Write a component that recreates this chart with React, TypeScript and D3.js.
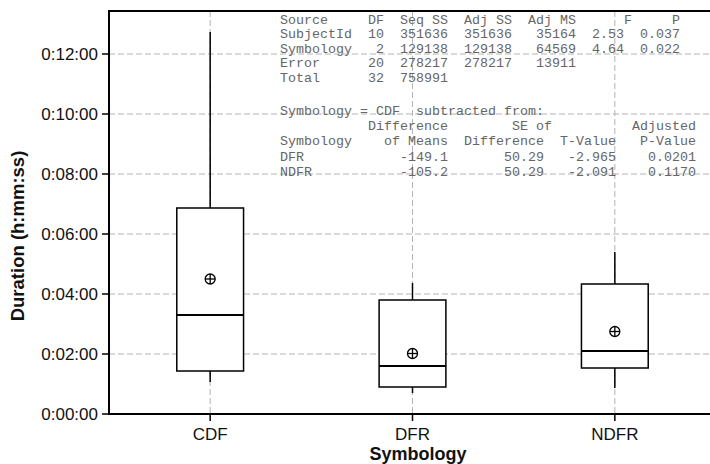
import React from 'react';
import * as d3 from 'd3';

// box plot summary per symbology, in seconds
const categories = ['CDF', 'DFR', 'NDFR'];
const whiskerLow = [64, 42, 52];
const q1 = [86, 54, 92];
const median = [198, 96, 126];
const q3 = [412, 228, 260];
const whiskerHigh = [764, 262, 324];
const means = [270, 121, 165];

const yTicks = [0, 120, 240, 360, 480, 600, 720];

// minitab session output pasted in the plot
const anovaLines = [
  'Source     DF  Seq SS  Adj SS  Adj MS      F     P',
  'SubjectId  10  351636  351636   35164  2.53  0.037',
  'Symbology   2  129138  129138   64569  4.64  0.022',
  'Error      20  278217  278217   13911',
  'Total      32  758991',
];
const compareLines = [
  'Symbology = CDF  subtracted from:',
  '           Difference        SE of          Adjusted',
  'Symbology    of Means  Difference  T-Value   P-Value',
  'DFR            -149.1       50.29   -2.965    0.0201',
  'NDFR           -105.2       50.29   -2.091    0.1170',
];

const width = 710;
const height = 464;
const margin = { top: 11, right: -6, bottom: 50, left: 109 };

function fmt(s: number) {
  const m = Math.floor(s / 60);
  const sec = s % 60;
  return `0:${String(m).padStart(2, '0')}:${String(sec).padStart(2, '0')}`;
}

export default function App() {
  const x = d3
    .scalePoint<string>()
    .domain(categories)
    .range([margin.left, width - margin.right])
    .padding(0.5);
  const y = d3
    .scaleLinear()
    .domain([0, 806])
    .range([height - margin.bottom, margin.top]);

  const boxW = x.step() * 0.33;
  const x0 = margin.left;
  const x1 = width - margin.right;
  const yb = y(0);
  const axisFont = '"Liberation Sans", Arial, sans-serif';
  const monoFont = '"Liberation Mono", "Courier New", monospace';

  return (
    <div style={{ position: 'absolute', left: 0, top: 0 }}>
      <svg width={width} height={height} style={{ display: 'block', background: '#fff' }}>
        {/* grid */}
        {yTicks.slice(1).map((t) => (
          <line
            key={'gy' + t}
            x1={x0}
            x2={x1}
            y1={y(t)}
            y2={y(t)}
            stroke="#b4b4b4"
            strokeWidth={1}
            strokeDasharray="6,3"
          />
        ))}
        {categories.map((c) => (
          <line
            key={'gx' + c}
            x1={x(c)}
            x2={x(c)}
            y1={margin.top}
            y2={yb}
            stroke="#b4b4b4"
            strokeWidth={1}
            strokeDasharray="6,3"
          />
        ))}

        {/* tables */}
        <g fill="#666" fontFamily={monoFont} fontSize={13.33}>
          {anovaLines.map((l, i) => (
            <text key={'a' + i} x={280} y={23.5 + i * 14.5} style={{ whiteSpace: 'pre' }}>
              {l}
            </text>
          ))}
          {compareLines.map((l, i) => (
            <text key={'c' + i} x={280} y={115 + i * 15.2} style={{ whiteSpace: 'pre' }}>
              {l}
            </text>
          ))}
        </g>

        {/* boxes */}
        {categories.map((c, i) => {
          const cx = x(c) as number;
          return (
            <g key={'b' + c} stroke="#000" strokeWidth={1.5} fill="#fff">
              <line x1={cx} x2={cx} y1={y(whiskerHigh[i])} y2={y(q3[i])} />
              <line x1={cx} x2={cx} y1={y(q1[i])} y2={y(whiskerLow[i])} />
              <rect x={cx - boxW / 2} y={y(q3[i])} width={boxW} height={y(q1[i]) - y(q3[i])} />
              <line x1={cx - boxW / 2} x2={cx + boxW / 2} y1={y(median[i])} y2={y(median[i])} strokeWidth={2} />
              <circle cx={cx} cy={y(means[i])} r={5} fill="none" strokeWidth={1.3} />
              <line x1={cx - 5} x2={cx + 5} y1={y(means[i])} y2={y(means[i])} strokeWidth={1.3} />
              <line x1={cx} x2={cx} y1={y(means[i]) - 5} y2={y(means[i]) + 5} strokeWidth={1.3} />
            </g>
          );
        })}

        {/* axes */}
        <line x1={x0} x2={x1} y1={margin.top} y2={margin.top} stroke="#000" strokeWidth={2} />
        <line x1={x0} x2={x1} y1={yb} y2={yb} stroke="#000" strokeWidth={2} />
        <line x1={x0} x2={x0} y1={margin.top - 1} y2={yb + 1} stroke="#000" strokeWidth={2} />
        {yTicks.map((t) => (
          <g key={'ty' + t}>
            <line x1={x0 - 7} x2={x0} y1={y(t)} y2={y(t)} stroke="#000" strokeWidth={1.5} />
            <text
              x={x0 - 11}
              y={y(t)}
              dy="0.35em"
              textAnchor="end"
              fontFamily={axisFont}
              fontSize={17}
              fill="#111"
            >
              {fmt(t)}
            </text>
          </g>
        ))}
        {categories.map((c) => (
          <g key={'tx' + c}>
            <line x1={x(c)} x2={x(c)} y1={yb} y2={yb + 7} stroke="#000" strokeWidth={1.5} />
            <text
              x={x(c)}
              y={yb + 26}
              textAnchor="middle"
              fontFamily={axisFont}
              fontSize={17}
              fill="#111"
            >
              {c}
            </text>
          </g>
        ))}
        <text
          x={418}
          y={460}
          textAnchor="middle"
          fontFamily={axisFont}
          fontSize={18}
          fontWeight="bold"
          fill="#111"
        >
          Symbology
        </text>
        <text
          transform={`translate(24,236) rotate(-90)`}
          textAnchor="middle"
          fontFamily={axisFont}
          fontSize={18.5}
          fontWeight="bold"
          fill="#111"
        >
          Duration (h:mm:ss)
        </text>
      </svg>
    </div>
  );
}
